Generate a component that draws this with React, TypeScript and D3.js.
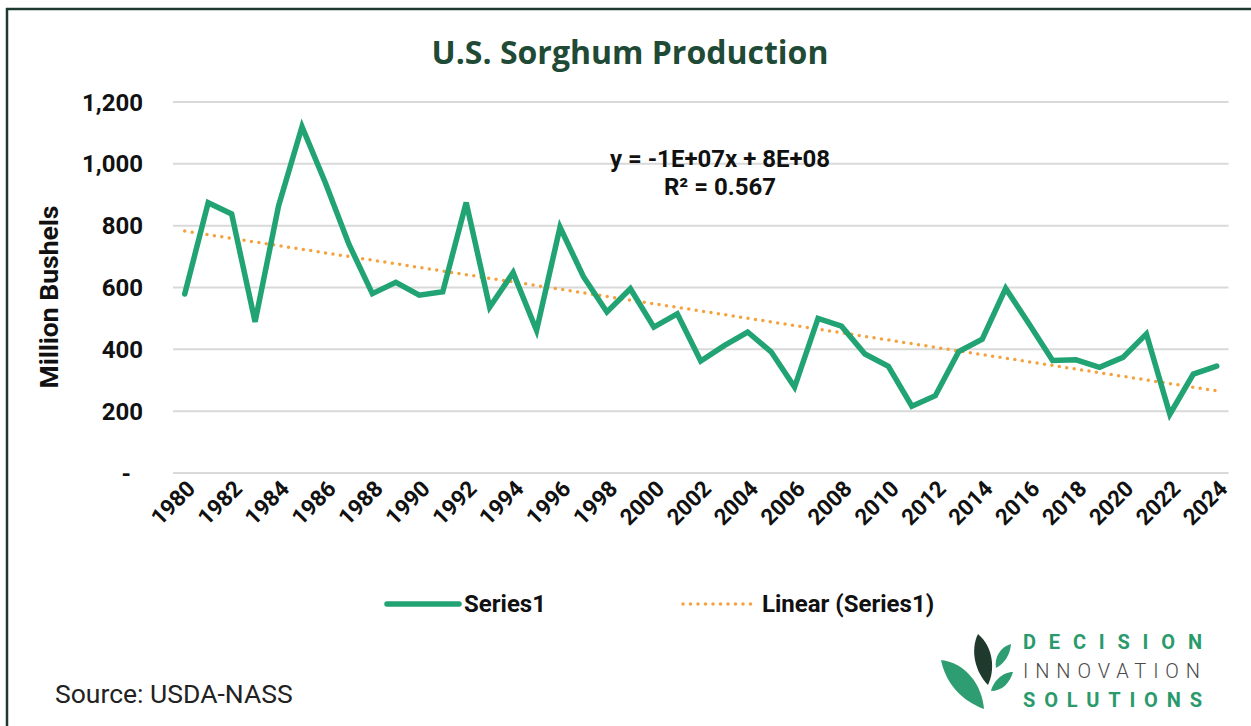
import React from "react";
import * as d3 from "d3";

const years: number[] = d3.range(1980, 2025);
const production: number[] = [
  579, 874, 838, 489, 864, 1120, 938, 740, 580, 617, 575, 586, 875, 536, 648, 461,
  795, 635, 521, 596, 472, 515, 362, 412, 456, 392, 278, 500, 475, 385, 345,
  216, 250, 393, 433, 597, 482, 364, 366, 342, 374, 450, 190, 320, 346,
];
const yTicks: number[] = [0, 200, 400, 600, 800, 1000, 1200];
const xTickYears: number[] = years.filter((y) => y % 2 === 0);

const title = "U.S. Sorghum Production";
const yTitle = "Million Bushels";
const eqLine1 = "y = -1E+07x + 8E+08";
const eqLine2 = "R² = 0.567";
const legendLabels = ["Series1", "Linear (Series1)"];
const sourceText = "Source: USDA-NASS";

const W = 1251;
const H = 726;
const GREEN = "#21a374";
const ORANGE = "#f5a23c";
const FONT = "Roboto, 'Noto Sans', sans-serif";

export default function App() {
  const x = d3
    .scaleBand<number>()
    .domain(years)
    .range([173, 1228.5])
    .padding(0);
  const cx = (yr: number) => (x(yr) as number) + x.bandwidth() / 2;
  const y = d3.scaleLinear().domain([0, 1200]).range([473, 102]);

  const line = d3
    .line<number>()
    .x((_, i) => cx(years[i]))
    .y((d) => y(d));

  // least squares trend
  const n = production.length;
  const idx = d3.range(n);
  const mx = d3.mean(idx) as number;
  const my = d3.mean(production) as number;
  const slope =
    d3.sum(idx, (i) => (i - mx) * (production[i] - my)) /
    d3.sum(idx, (i) => (i - mx) * (i - mx));
  const intercept = my - slope * mx;
  const trend = idx.map((i) => intercept + slope * i);

  const fmt = (v: number) => (v === 0 ? "-" : d3.format(",")(v));

  return (
    <svg
      width={W}
      height={H}
      style={{ position: "absolute", left: 0, top: 0, background: "#fff" }}
    >
      <rect x={0} y={0} width={W} height={H} fill="#fff" />
      {/* frame */}
      <line x1={6} x2={W} y1={9} y2={9} stroke="#1c3b2e" strokeWidth={2.5} />
      <line x1={7} x2={7} y1={8} y2={H} stroke="#1c3b2e" strokeWidth={2.5} />

      {/* title */}
      <text
        x={630}
        y={64}
        textAnchor="middle"
        fontFamily="'Open Sans', sans-serif"
        fontWeight={700}
        fontSize={32}
        fill="#1f4a36"
      >
        {title}
      </text>

      {/* gridlines */}
      {yTicks.map((t) => (
        <line
          key={t}
          x1={173}
          x2={1228.5}
          y1={y(t)}
          y2={y(t)}
          stroke="#d9d9d9"
          strokeWidth={2}
        />
      ))}

      {/* y tick labels */}
      {yTicks.map((t) => (
        <text
          key={"l" + t}
          x={t === 0 ? 131 : 143}
          y={y(t) + 8.5}
          textAnchor="end"
          fontFamily={FONT}
          fontWeight={700}
          fontSize={24}
          fill="#111"
        >
          {fmt(t)}
        </text>
      ))}

      {/* y title */}
      <text
        transform={`translate(58,297) rotate(-90)`}
        textAnchor="middle"
        fontFamily={FONT}
        fontWeight={700}
        fontSize={26.5}
        fill="#111"
      >
        {yTitle}
      </text>

      {/* x labels */}
      {xTickYears.map((yr) => (
        <text
          key={yr}
          transform={`translate(${cx(yr) + 12},490) rotate(-45)`}
          textAnchor="end"
          fontFamily={FONT}
          fontWeight={700}
          fontSize={22.5}
          fill="#111"
        >
          {yr}
        </text>
      ))}

      {/* trend */}
      <path
        d={line(trend) as string}
        fill="none"
        stroke={ORANGE}
        strokeWidth={3.5}
        strokeDasharray="0 7.5"
        strokeLinecap="round"
      />
      {/* series */}
      <path
        d={line(production) as string}
        fill="none"
        stroke={GREEN}
        strokeWidth={5.5}
        strokeLinejoin="miter"
        strokeLinecap="round"
      />

      {/* equation */}
      <text
        x={720}
        y={167}
        textAnchor="middle"
        fontFamily={FONT}
        fontWeight={700}
        fontSize={24}
        fill="#111"
      >
        {eqLine1}
      </text>
      <text
        x={720}
        y={195}
        textAnchor="middle"
        fontFamily={FONT}
        fontWeight={700}
        fontSize={24}
        fill="#111"
      >
        {eqLine2}
      </text>

      {/* legend */}
      <line
        x1={387}
        x2={459}
        y1={604}
        y2={604}
        stroke={GREEN}
        strokeWidth={5.5}
        strokeLinecap="round"
      />
      <text
        x={464}
        y={612}
        fontFamily={FONT}
        fontWeight={700}
        fontSize={24}
        fill="#111"
      >
        {legendLabels[0]}
      </text>
      <line
        x1={683}
        x2={752}
        y1={604}
        y2={604}
        stroke={ORANGE}
        strokeWidth={3.5}
        strokeDasharray="0 7.5"
        strokeLinecap="round"
      />
      <text
        x={762}
        y={612}
        fontFamily={FONT}
        fontWeight={700}
        fontSize={24}
        fill="#111"
      >
        {legendLabels[1]}
      </text>

      {/* source */}
      <text
        x={55}
        y={703}
        fontFamily={FONT}
        fontWeight={400}
        fontSize={26.5}
        fill="#222"
      >
        {sourceText}
      </text>

      {/* logo */}
      <g>
        <path
          d="M941,660 C966,663 982,685 984,709 C962,701 946,684 941,660 Z"
          fill="#2e9e72"
        />
        <path
          d="M978,634 C994,648 995,670 988,685 C975,672 970,650 978,634 Z"
          fill="#1f3a2c"
        />
        <path
          d="M1011,644 C1000,647 994,658 996,668 C1005,663 1010,655 1011,644 Z"
          fill="#2e9e72"
        />
        <path
          d="M1013,672 C1002,672 993,682 991,691 C1002,691 1010,683 1013,672 Z"
          fill="#2e9e72"
        />
        <text
          x={1023}
          y={649}
          textLength={179}
          lengthAdjust="spacing"
          fontFamily={FONT}
          fontWeight={700}
          fontSize={20}
          fill="#2a9a6c"
        >
          DECISION
        </text>
        <text
          x={1023}
          y={678}
          textLength={177}
          lengthAdjust="spacing"
          fontFamily={FONT}
          fontWeight={300}
          fontSize={20}
          fill="#4a4a4a"
        >
          INNOVATION
        </text>
        <text
          x={1023}
          y={707}
          textLength={179}
          lengthAdjust="spacing"
          fontFamily={FONT}
          fontWeight={700}
          fontSize={20}
          fill="#2a9a6c"
        >
          SOLUTIONS
        </text>
      </g>
    </svg>
  );
}
